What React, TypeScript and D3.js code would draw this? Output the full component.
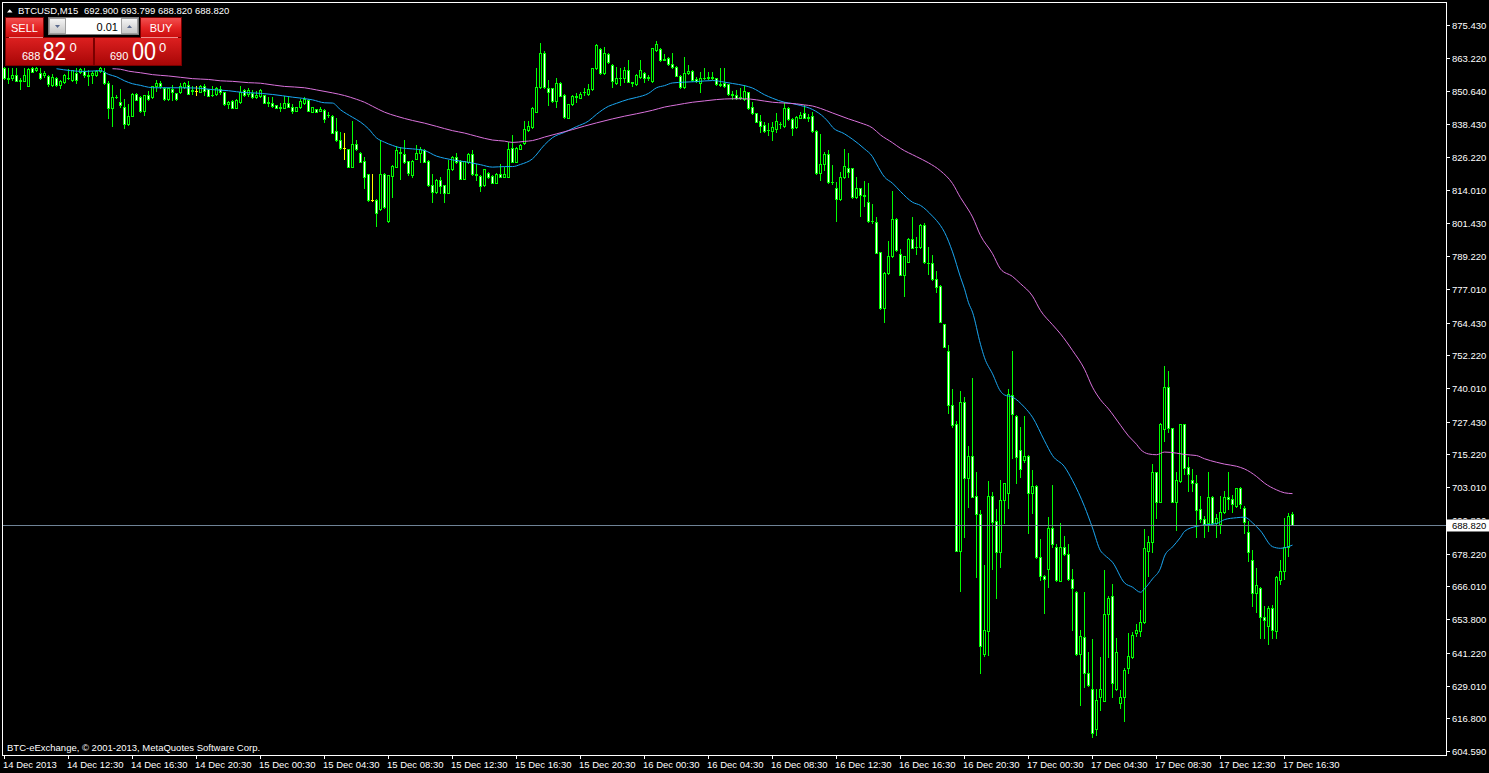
import React from "react";
import * as d3 from "d3";

// ---------- data (BTCUSD, M15) ----------
const opens = [
  859.3, 855.6, 855.8, 856.6, 854.6, 854.4, 852.5, 859.3, 858.6, 857.5,
  856.6, 856.5, 853.1, 855.8, 852.9, 854.1, 855.7, 854.8, 857.5, 857.8,
  858.1, 856.7, 856.6, 856.6, 858.1, 857.8, 853.7, 844.6, 848.4, 846.6,
  844.9, 838.4, 841.5, 849.6, 848.6, 843.5, 849.2, 848.4, 852.5, 853.7,
  852.1, 847.9, 851.5, 850.0, 850.6, 852.4, 852.9, 850.9, 850.9, 850.6,
  852.7, 851.5, 849.2, 849.6, 851.6, 850.4, 845.9, 847.1, 844.6, 846.6,
  851.2, 849.6, 849.9, 848.4, 849.0, 849.2, 846.7, 846.5, 845.5, 844.6,
  844.6, 846.5, 844.7, 843.5, 845.0, 846.2, 847.5, 843.1, 844.0, 843.5,
  843.7, 841.7, 841.5, 835.8, 832.5, 829.4, 829.0, 822.6, 831.0, 827.8,
  824.6, 819.8, 810.1, 810.1, 806.7, 819.8, 802.4, 819.1, 822.6, 828.0,
  827.3, 824.6, 819.5, 825.6, 827.8, 828.8, 824.8, 815.7, 813.3, 817.6,
  815.6, 812.9, 821.6, 826.3, 824.8, 818.1, 824.5, 827.2, 819.7, 819.1,
  815.6, 820.3, 819.1, 816.6, 819.8, 818.8, 818.8, 829.4, 824.5, 829.3,
  831.3, 836.3, 837.5, 843.1, 852.4, 864.9, 851.8, 851.8, 847.2, 853.7,
  849.3, 840.9, 845.8, 849.1, 848.3, 850.4, 849.6, 851.6, 859.3, 866.5,
  857.4, 864.5, 860.5, 853.7, 855.8, 855.5, 858.6, 854.3, 853.3, 856.2,
  857.4, 855.8, 854.5, 866.1, 866.5, 862.4, 863.2, 860.8, 859.9, 856.5,
  852.4, 857.4, 858.3, 855.2, 853.7, 855.8, 855.7, 855.9, 855.5, 853.3,
  853.7, 853.3, 849.6, 849.3, 848.3, 847.8, 850.3, 844.8, 842.5, 839.6,
  838.1, 836.3, 835.9, 836.5, 838.4, 837.9, 844.6, 840.4, 837.5, 840.9,
  842.5, 840.9, 841.5, 835.9, 820.1, 823.4, 827.2, 817.0, 814.5, 810.4,
  818.7, 822.0, 822.0, 811.4, 814.5, 812.0, 809.5, 802.3, 801.8, 790.6,
  769.7, 782.8, 789.1, 803.1, 789.9, 782.2, 787.1, 795.6, 792.7, 792.7,
  800.8, 786.7, 786.5, 780.5, 778.1, 763.8, 753.8, 733.7, 726.6, 679.3,
  734.8, 706.3, 714.6, 699.7, 693.0, 640.8, 649.5, 699.7, 690.4, 678.9,
  698.2, 700.7, 737.4, 729.6, 716.9, 713.0, 714.6, 700.7, 703.5, 676.8,
  669.9, 672.4, 687.7, 680.6, 668.1, 680.8, 677.9, 668.6, 664.0, 640.8,
  647.0, 633.6, 627.6, 612.7, 624.6, 623.4, 655.7, 662.4, 627.6, 622.6,
  624.6, 635.4, 639.5, 648.5, 649.4, 652.6, 679.2, 682.4, 708.5, 697.6,
  724.7, 740.5, 725.0, 697.6, 705.3, 726.5, 710.7, 705.7, 704.4, 694.9,
  691.1, 689.5, 699.5, 689.5, 689.2, 693.6, 699.5, 698.6, 696.1, 702.8,
  695.1, 686.2, 675.8, 663.4, 665.5, 654.7, 651.3, 657.8, 649.4, 668.4,
  671.7, 680.8, 692.9,
];
const highs = [
  859.6, 859.3, 859.3, 859.3, 855.6, 859.3, 859.3, 859.6, 859.6, 859.3,
  858.1, 856.8, 857.1, 856.1, 855.0, 857.3, 859.1, 858.8, 859.3, 859.3,
  859.3, 858.7, 858.1, 858.7, 859.6, 859.3, 854.6, 852.9, 849.4, 851.6,
  847.9, 845.9, 849.9, 849.9, 848.9, 849.5, 850.9, 852.7, 855.0, 854.6,
  852.4, 852.1, 852.9, 850.2, 853.7, 854.0, 854.4, 852.5, 852.5, 852.9,
  853.4, 851.7, 852.5, 852.4, 852.5, 850.6, 847.1, 847.4, 847.8, 852.5,
  851.5, 852.1, 851.2, 850.9, 851.4, 849.4, 848.4, 848.4, 845.6, 846.5,
  849.0, 848.7, 846.0, 845.0, 847.7, 848.4, 847.7, 845.0, 844.2, 844.7,
  844.0, 843.1, 841.7, 840.6, 835.5, 835.0, 829.3, 839.6, 832.5, 828.0,
  826.1, 820.0, 819.8, 810.4, 832.5, 820.3, 819.6, 823.1, 830.3, 829.8,
  832.5, 824.8, 825.1, 830.5, 829.8, 829.0, 825.1, 819.8, 817.8, 818.6,
  815.9, 825.1, 826.6, 827.6, 825.1, 824.8, 827.6, 828.8, 823.6, 819.3,
  821.8, 820.6, 819.3, 820.1, 823.6, 822.3, 831.8, 834.4, 829.8, 831.0,
  839.6, 839.6, 844.8, 859.3, 868.7, 865.7, 854.9, 852.1, 855.5, 854.0,
  849.6, 846.1, 849.3, 849.9, 850.6, 851.8, 853.3, 859.5, 868.2, 866.7,
  867.3, 864.9, 860.8, 859.9, 859.5, 859.9, 862.4, 854.3, 857.0, 862.4,
  857.8, 856.8, 867.0, 869.5, 866.7, 864.5, 863.4, 864.9, 860.1, 856.8,
  863.6, 860.5, 858.6, 856.2, 858.0, 859.3, 858.0, 858.0, 855.8, 859.3,
  859.3, 853.5, 850.8, 851.2, 852.1, 853.0, 850.6, 846.8, 842.7, 841.9,
  839.1, 838.7, 839.1, 842.5, 839.1, 846.8, 844.8, 840.6, 841.5, 843.1,
  845.6, 842.1, 843.1, 836.1, 834.6, 828.2, 828.8, 823.2, 816.7, 820.7,
  829.2, 827.6, 822.2, 818.9, 814.7, 817.2, 816.4, 808.8, 803.9, 790.9,
  783.2, 794.8, 813.5, 803.3, 791.9, 789.4, 795.8, 803.9, 796.5, 801.1,
  801.7, 792.6, 789.6, 783.7, 778.3, 764.0, 756.1, 739.5, 727.8, 739.0,
  736.5, 718.3, 743.9, 708.7, 694.5, 674.0, 705.4, 701.3, 694.7, 705.7,
  704.7, 739.5, 753.8, 729.8, 725.3, 729.6, 714.9, 709.4, 703.7, 683.5,
  670.1, 692.0, 703.8, 681.8, 689.8, 684.8, 681.8, 672.4, 664.3, 649.7,
  664.0, 641.6, 646.3, 627.8, 639.8, 672.1, 662.4, 666.8, 646.6, 627.3,
  635.4, 648.5, 648.8, 651.8, 657.2, 687.4, 684.9, 711.5, 708.8, 726.8,
  748.2, 746.4, 725.2, 708.5, 726.7, 726.7, 714.4, 709.8, 707.5, 699.8,
  692.4, 708.5, 699.8, 692.9, 699.8, 701.6, 708.5, 700.1, 702.8, 703.1,
  696.1, 690.5, 679.6, 672.7, 665.8, 658.8, 658.8, 659.1, 670.0, 675.8,
  691.6, 693.3, 693.799,
];
const lows = [
  855.3, 853.7, 855.0, 854.4, 851.5, 854.4, 852.5, 857.8, 858.3, 855.3,
  856.2, 852.5, 852.5, 852.6, 851.9, 853.7, 855.3, 854.6, 853.7, 857.6,
  856.2, 852.9, 853.7, 856.3, 857.8, 853.4, 840.7, 837.9, 848.1, 845.0,
  836.9, 838.2, 841.3, 847.4, 843.1, 841.9, 847.5, 848.1, 850.9, 851.9,
  847.6, 847.6, 847.5, 847.6, 850.0, 852.1, 849.6, 849.6, 849.4, 850.4,
  849.4, 848.9, 849.1, 849.4, 849.6, 845.6, 844.6, 844.4, 844.4, 846.3,
  849.1, 848.8, 848.1, 848.1, 848.7, 846.2, 845.2, 844.7, 844.5, 843.5,
  844.3, 844.7, 842.5, 843.2, 844.3, 846.0, 843.2, 842.8, 842.8, 843.2,
  839.4, 841.2, 835.0, 832.3, 829.0, 825.6, 822.3, 822.3, 828.8, 824.3,
  814.5, 809.9, 809.9, 800.4, 806.4, 807.2, 801.9, 811.4, 822.3, 818.1,
  824.1, 819.5, 818.6, 825.3, 824.3, 824.3, 815.4, 809.5, 812.6, 812.6,
  809.5, 812.6, 821.3, 823.8, 817.8, 817.8, 824.1, 819.5, 817.6, 813.6,
  815.4, 818.3, 816.4, 816.4, 818.6, 818.6, 818.6, 824.3, 824.3, 829.0,
  831.0, 836.0, 837.1, 842.9, 852.1, 851.8, 845.6, 846.8, 845.0, 848.8,
  840.9, 840.6, 845.6, 846.8, 848.1, 849.3, 849.3, 851.2, 859.0, 857.0,
  857.0, 861.2, 852.4, 853.3, 853.0, 854.3, 854.0, 852.8, 853.0, 855.8,
  854.3, 854.9, 854.3, 865.7, 862.1, 862.2, 860.6, 859.5, 856.3, 852.1,
  852.1, 857.0, 854.6, 854.3, 850.3, 855.2, 855.2, 855.2, 853.0, 852.8,
  852.4, 849.3, 847.8, 847.8, 847.8, 847.4, 844.1, 842.1, 839.1, 835.6,
  835.6, 834.4, 832.5, 835.6, 837.1, 837.5, 840.1, 834.4, 837.1, 840.6,
  840.6, 839.6, 835.6, 820.0, 817.6, 821.3, 816.4, 816.0, 802.3, 810.2,
  818.5, 818.9, 811.0, 811.0, 804.3, 808.0, 802.1, 801.4, 790.3, 769.5,
  764.8, 782.4, 788.9, 791.1, 782.0, 774.5, 786.9, 792.1, 790.1, 792.4,
  786.5, 782.4, 780.3, 775.7, 764.5, 755.2, 730.8, 725.6, 679.1, 664.4,
  684.5, 695.5, 699.2, 669.6, 633.6, 640.0, 640.3, 672.4, 661.5, 673.4,
  689.5, 695.1, 713.8, 704.7, 706.7, 712.5, 686.0, 693.3, 676.5, 668.4,
  656.2, 665.9, 680.6, 668.1, 667.9, 677.7, 668.4, 649.7, 640.4, 621.8,
  628.6, 628.8, 609.7, 610.6, 619.9, 623.1, 639.5, 624.9, 627.3, 620.5,
  615.9, 633.6, 639.2, 647.6, 647.6, 652.3, 670.0, 678.7, 691.6, 697.4,
  720.2, 723.5, 697.4, 687.0, 705.1, 707.8, 701.6, 701.6, 684.5, 690.1,
  684.5, 686.7, 689.2, 684.5, 685.8, 693.3, 694.9, 693.6, 695.7, 695.1,
  685.8, 675.5, 658.8, 656.3, 646.6, 646.6, 644.4, 646.6, 646.9, 666.8,
  668.7, 677.5, 688.82,
];
const closes = [
  855.6, 855.2, 856.8, 854.4, 854.8, 856.8, 859.1, 857.8, 859.3, 855.6,
  857.5, 853.4, 856.1, 852.9, 854.4, 856.8, 855.5, 858.6, 854.8, 859.1,
  856.6, 856.5, 857.5, 858.3, 859.3, 853.7, 844.6, 848.4, 848.6, 845.4,
  838.4, 841.5, 849.6, 847.6, 843.4, 849.2, 847.9, 852.5, 853.7, 852.5,
  847.9, 851.9, 850.4, 847.9, 852.6, 853.7, 849.7, 851.1, 850.9, 852.6,
  850.9, 849.1, 849.5, 852.1, 850.4, 845.9, 846.6, 844.6, 847.5, 850.4,
  849.4, 851.2, 848.7, 849.2, 851.2, 846.5, 846.2, 845.2, 844.6, 844.8,
  846.5, 845.0, 843.5, 844.7, 847.0, 847.7, 843.5, 844.7, 843.0, 844.2,
  840.5, 841.9, 835.3, 832.5, 829.4, 829.4, 822.6, 831.0, 829.0, 824.5,
  818.6, 810.1, 810.1, 805.4, 819.8, 807.4, 819.3, 822.8, 828.8, 827.6,
  824.5, 820.1, 824.8, 827.6, 829.0, 824.5, 815.6, 813.3, 817.6, 815.4,
  812.9, 821.6, 826.3, 824.3, 818.1, 824.6, 827.2, 819.7, 819.5, 815.4,
  821.6, 818.6, 816.6, 819.8, 818.8, 819.8, 829.0, 824.5, 829.4, 830.5,
  836.5, 837.7, 844.6, 852.4, 864.9, 852.4, 850.6, 847.2, 853.7, 849.1,
  841.2, 845.8, 849.1, 848.7, 849.6, 850.6, 851.6, 859.3, 868.0, 857.4,
  864.9, 861.5, 854.5, 855.8, 855.6, 858.6, 854.3, 853.7, 856.8, 858.6,
  855.8, 855.9, 866.7, 868.2, 862.4, 862.7, 860.8, 859.9, 856.5, 852.4,
  857.4, 858.3, 854.9, 854.5, 855.8, 855.7, 855.9, 855.7, 853.3, 853.2,
  852.8, 849.6, 849.5, 848.3, 848.4, 850.8, 844.6, 842.5, 839.4, 837.9,
  835.9, 836.1, 837.5, 839.6, 838.6, 844.6, 840.4, 837.1, 841.2, 841.9,
  840.9, 841.2, 835.9, 820.3, 823.4, 827.2, 816.7, 816.8, 810.4, 818.7,
  822.8, 820.5, 811.4, 814.5, 812.0, 811.7, 802.3, 802.2, 790.5, 769.7,
  782.8, 789.1, 803.1, 791.4, 782.2, 789.1, 795.6, 792.4, 792.6, 800.8,
  786.9, 786.5, 780.5, 777.8, 764.8, 755.4, 733.7, 726.2, 679.3, 734.8,
  706.3, 714.6, 699.5, 693.0, 643.8, 649.7, 699.7, 690.1, 678.9, 698.2,
  704.4, 737.8, 730.3, 714.4, 709.7, 714.6, 700.7, 703.5, 676.8, 669.9,
  668.6, 687.7, 681.8, 668.4, 680.8, 677.9, 668.6, 665.3, 640.8, 647.5,
  633.6, 629.1, 611.4, 623.6, 627.6, 655.7, 661.5, 629.8, 641.6, 624.6,
  634.8, 640.0, 647.7, 649.7, 652.8, 680.4, 682.4, 708.5, 697.6, 726.5,
  740.5, 725.0, 697.6, 705.7, 726.5, 710.0, 707.8, 704.4, 694.5, 691.1,
  689.4, 699.5, 689.5, 691.6, 693.6, 699.5, 698.6, 696.6, 702.6, 696.6,
  689.9, 678.7, 663.4, 666.5, 654.7, 653.5, 657.8, 649.7, 669.6, 671.7,
  680.8, 692.4, 688.82,
];

// moving averages (bar index, value)
const blueBars = [
  13, 20, 24, 26, 28, 30, 32, 34, 36, 38, 44, 48, 52, 56, 60, 62, 67, 72, 77, 80,
  82, 84, 87, 89, 91, 93, 95, 97, 99, 102, 105, 108, 110, 112, 116, 119, 122, 125, 127, 129,
  132, 135, 137, 140, 143, 146, 148, 151, 153, 156, 158, 161, 163, 165, 167, 170, 173, 177, 180, 182,
  185, 187, 190, 192, 195, 197, 199, 202, 205, 206, 207, 210, 212, 215, 217, 218, 220, 222, 224, 227,
  229, 232, 233, 235, 237, 239, 240, 241, 242, 244, 245, 247, 249, 250, 252, 255, 257, 260, 262, 265,
  267, 270, 272, 274, 275, 277, 280, 282, 284, 285, 287, 289, 290, 292, 294, 295, 298, 300, 303, 305,
  308, 310, 312, 314, 317, 319, 322,
];
const blueValues = [
  859.3, 858.3, 858.6, 857.2, 856.3, 854.8, 853.7, 853.1, 852.4, 852.2, 852.2, 852.1, 851.5, 851.1, 850.4, 850.3, 849.7, 848.7, 847.7, 846.6,
  846.5, 844.0, 841.2, 839.4, 836.9, 833.5, 831.9, 830.7, 829.8, 829.4, 828.8, 826.7, 825.9, 825.3, 824.4, 823.5, 822.6, 822.8, 822.8, 823.6,
  825.7, 830.9, 833.6, 835.6, 837.7, 839.8, 842.3, 845.3, 846.4, 847.9, 848.6, 850.1, 852.2, 853.0, 854.0, 854.3, 854.5, 854.9, 854.3, 853.8,
  853.0, 852.1, 849.6, 848.3, 846.8, 846.3, 845.6, 844.1, 841.0, 839.4, 837.5, 835.0, 833.0, 829.4, 826.5, 823.8, 818.9, 816.6, 813.5, 809.5,
  808.3, 804.3, 802.7, 798.3, 791.0, 781.5, 777.2, 772.0, 768.5, 756.5, 751.5, 745.5, 739.0, 737.6, 736.8, 733.0, 729.3, 720.5, 715.0, 710.8,
  705.7, 696.0, 688.0, 679.5, 677.9, 675.2, 667.5, 665.9, 664.0, 665.3, 669.0, 673.0, 677.5, 680.9, 684.5, 686.7, 688.6, 689.1, 689.6, 691.1,
  691.8, 692.0, 689.9, 686.9, 681.0, 680.4, 681.6,
];
const violetBars = [
  27, 29, 31, 34, 37, 41, 44, 47, 51, 54, 57, 61, 64, 65, 70, 75, 78, 82, 85, 88,
  90, 92, 95, 98, 102, 105, 108, 112, 115, 118, 122, 125, 127, 130, 132, 135, 138, 142, 145, 148,
  152, 155, 158, 162, 165, 168, 172, 175, 178, 182, 185, 188, 192, 195, 198, 200, 202, 204, 207, 211,
  214, 217, 219, 222, 224, 228, 231, 234, 237, 239, 240, 242, 244, 247, 249, 252, 254, 257, 259, 262,
  264, 267, 270, 272, 274, 276, 279, 281, 283, 284, 286, 288, 290, 293, 295, 298, 300, 303, 305, 308,
  310, 313, 315, 318, 320, 322,
];
const violetValues = [
  859.3, 859.1, 858.4, 857.8, 857.1, 856.6, 856.1, 855.6, 855.3, 854.8, 854.6, 854.1, 853.9, 853.7, 852.7, 852.2, 851.4, 850.3, 849.3, 847.9,
  846.8, 845.3, 843.1, 841.6, 840.0, 839.0, 837.8, 836.2, 835.3, 834.1, 832.7, 832.3, 831.8, 832.2, 832.5, 833.8, 835.0, 836.6, 837.9, 839.1,
  840.6, 841.6, 842.5, 843.8, 845.0, 845.8, 846.8, 847.3, 847.8, 848.1, 848.1, 847.7, 846.8, 846.5, 846.2, 845.8, 845.4, 844.5, 842.8, 840.6,
  839.1, 837.2, 834.6, 831.7, 829.6, 826.5, 824.2, 821.2, 816.5, 811.2, 808.9, 804.0, 797.1, 790.3, 784.6, 781.8, 779.1, 774.5, 769.1, 763.8,
  760.4, 754.2, 747.2, 740.5, 735.8, 732.4, 726.3, 722.3, 719.2, 717.3, 715.6, 715.3, 716.3, 715.9, 715.4, 715.0, 713.8, 712.5, 711.8, 711.0,
  710.0, 707.2, 704.7, 702.2, 701.1, 700.8,
];

const priceTicks = [
  875.43, 863.22, 850.64, 838.43, 826.22, 814.01, 801.43, 789.22, 777.01, 764.43, 752.22, 740.01,
  727.43, 715.22, 703.01, 690.8, 678.22, 666.01, 653.8, 641.22, 629.01, 616.8, 604.59,
];
const timeLabels = [
  "14 Dec 2013", "14 Dec 12:30", "14 Dec 16:30", "14 Dec 20:30", "15 Dec 00:30", "15 Dec 04:30",
  "15 Dec 08:30", "15 Dec 12:30", "15 Dec 16:30", "15 Dec 20:30", "16 Dec 00:30", "16 Dec 04:30",
  "16 Dec 08:30", "16 Dec 12:30", "16 Dec 16:30", "16 Dec 20:30", "17 Dec 00:30", "17 Dec 04:30",
  "17 Dec 08:30", "17 Dec 12:30", "17 Dec 16:30",
];
const barsPerLabel = 16;
const symbolTitle = "BTCUSD,M15";
const quoteLine = "692.900 693.799 688.820 688.820";
const lastPrice = 688.82;
const sellQuote = ["688", "82", "0"];
const buyQuote = ["690", "00", "0"];
const lotSize = "0.01";
const copyright = "BTC-eExchange, \u00A9 2001-2013, MetaQuotes Software Corp.";

const FONT = "'Liberation Sans', Arial, sans-serif";
const LIME = "#00ff00";

export default function App() {
  const W = 1489, H = 773;
  const pLeft = 2, pTop = 2, pRight = 1446, pBottom = 755;
  const n = opens.length;
  const x = d3.scaleLinear().domain([0, n - 1]).range([4, 1292]);
  const y = d3.scaleLinear().domain([604.59, 875.43]).range([751, 25]);
  const py = (v: number) => Math.round(y(v));
  const fmt = d3.format(".3f");

  const maLine = (bars: number[], vals: number[]) =>
    d3.line<number>()
      .x((_, i) => x(bars[i]) + 0.5)
      .y((d) => y(d) + 0.5)
      .curve(d3.curveMonotoneX)(vals) || "";

  const candles = opens.map((o, i) => {
    const c = Math.round(x(i));
    const cl = closes[i];
    const yh = py(highs[i]);
    const yl = py(lows[i]);
    const bt = py(Math.max(o, cl));
    const bb = py(Math.min(o, cl));
    const doji = o === cl;
    const col = doji ? "#ffff00" : LIME;
    return (
      <g key={i}>
        <rect x={c} y={yh} width={1} height={Math.max(1, yl - yh + 1)} fill={col} />
        <rect x={c - 1} y={bt} width={3} height={bb - bt + 1} fill={col} />
        {!doji && bb - bt >= 2 && (
          <rect x={c} y={bt + 1} width={1} height={bb - bt - 1} fill={cl < o ? "#ffffff" : "#000000"} />
        )}
      </g>
    );
  });

  const lastY = py(lastPrice) + 0.5;
  const boxTop = lastY - 6;

  return (
    <div style={{ position: "fixed", left: 0, top: 0, width: W, height: H, background: "#000" }}>
      <svg width={W} height={H} style={{ display: "block" }} fontFamily={FONT}>
        <defs>
          <linearGradient id="tabGrad" x1="0" y1="0" x2="0" y2="1">
            <stop offset="0" stopColor="#f25252" />
            <stop offset="0.5" stopColor="#e52525" />
            <stop offset="1" stopColor="#c80c0c" />
          </linearGradient>
          <linearGradient id="boxGrad" x1="0" y1="0" x2="0" y2="1">
            <stop offset="0" stopColor="#dd2020" />
            <stop offset="1" stopColor="#a80606" />
          </linearGradient>
          <linearGradient id="btnGrad" x1="0" y1="0" x2="0" y2="1">
            <stop offset="0" stopColor="#f6f6f6" />
            <stop offset="1" stopColor="#c6c6c6" />
          </linearGradient>
          <clipPath id="aboveBox">
            <rect x={1447} y={0} width={42} height={boxTop} />
          </clipPath>
        </defs>
        <rect x={0} y={0} width={W} height={H} fill="#000" />

        <g shapeRendering="crispEdges">{candles}</g>

        <path d={maLine(blueBars, blueValues)} fill="none" stroke="#1aa7f2" strokeWidth={1} />
        <path d={maLine(violetBars, violetValues)} fill="none" stroke="#da72dc" strokeWidth={1} />

        <line x1={pLeft} x2={pRight} y1={lastY} y2={lastY} stroke="#6f8396" strokeWidth={1} shapeRendering="crispEdges" />

        {/* frame */}
        <rect x={pLeft + 0.5} y={pTop + 0.5} width={pRight - pLeft} height={pBottom - pTop} fill="none" stroke="#fff" strokeWidth={1} shapeRendering="crispEdges" />

        {/* price axis */}
        {priceTicks.map((t) => {
          const ty = py(t) + 0.5;
          const hidden = Math.abs(ty - lastY) < 10;
          return (
            <g key={t}>
              <line x1={pRight} x2={pRight + 4} y1={ty} y2={ty} stroke="#fff" shapeRendering="crispEdges" />
              <text x={1452} y={ty + 3.5} fill="#fff" fontSize={9.5} clipPath={hidden ? "url(#aboveBox)" : undefined}>{fmt(t)}</text>
            </g>
          );
        })}
        <rect x={1447} y={boxTop} width={42} height={12} fill="#fff" />
        <text x={1452} y={lastY + 3.5} fill="#000" fontSize={9.5}>{fmt(lastPrice)}</text>

        {/* time axis */}
        {timeLabels.map((lab, k) => {
          const tx = Math.round(x(k * barsPerLabel)) + 0.5;
          return (
            <g key={lab}>
              <line x1={tx} x2={tx} y1={pBottom} y2={pBottom + 4} stroke="#fff" shapeRendering="crispEdges" />
              <text x={tx - 1.5} y={767.5} fill="#fff" fontSize={9.5}>{lab}</text>
            </g>
          );
        })}

        <text x={7} y={750.5} fill="#fff" fontSize={9.5}>{copyright}</text>

        {/* header */}
        <polygon points="7,12.5 12.5,12.5 9.75,9.3" fill="#fff" />
        <text x={18} y={13.5} fill="#fff" fontSize={9.5}>{symbolTitle}</text>
        <text x={84} y={13.5} fill="#fff" fontSize={9.5}>{quoteLine}</text>

        {/* one-click trading panel */}
        <g shapeRendering="crispEdges">
          <rect x={5.5} y={37.5} width={88} height={28} fill="url(#boxGrad)" stroke="#7a0000" />
          <rect x={5.5} y={17.5} width={38} height={20} fill="url(#tabGrad)" stroke="#7a0000" />
          <line x1={9} x2={43} y1={37.5} y2={37.5} stroke="#f08a8a" />
          <rect x={94.5} y={37.5} width={87} height={28} fill="url(#boxGrad)" stroke="#7a0000" />
          <rect x={140.5} y={17.5} width={41} height={20} fill="url(#tabGrad)" stroke="#7a0000" />
          <line x1={141} x2={178} y1={37.5} y2={37.5} stroke="#f08a8a" />
          <rect x={48.5} y={17.5} width={90} height={17} fill="#fff" stroke="#7d7d7d" />
          <rect x={49.5} y={18.5} width={16} height={15} fill="url(#btnGrad)" stroke="#a0a0a0" />
          <rect x={121.5} y={18.5} width={16} height={15} fill="url(#btnGrad)" stroke="#a0a0a0" />
        </g>
        <polygon points="55,25 60,25 57.5,28" fill="#5a6a8e" />
        <polygon points="127,28 132,28 129.5,25" fill="#5a6a8e" />
        <text x={118} y={30.5} fill="#000" fontSize={11} textAnchor="end">{lotSize}</text>
        <text x={24.5} y={31.5} fill="#fff" fontSize={11} textAnchor="middle">SELL</text>
        <text x={161} y={31.5} fill="#fff" fontSize={11} textAnchor="middle">BUY</text>

        <text x={22} y={59.5} fill="#fff" fontSize={11}>{sellQuote[0]}</text>
        <text x={43} y={60} fill="#fff" fontSize={26} textLength={23} lengthAdjust="spacingAndGlyphs">{sellQuote[1]}</text>
        <text x={69.5} y={52} fill="#fff" fontSize={13}>{sellQuote[2]}</text>

        <text x={110} y={59.5} fill="#fff" fontSize={11}>{buyQuote[0]}</text>
        <text x={132} y={60} fill="#fff" fontSize={26} textLength={24} lengthAdjust="spacingAndGlyphs">{buyQuote[1]}</text>
        <text x={159} y={52} fill="#fff" fontSize={13}>{buyQuote[2]}</text>
      </svg>
    </div>
  );
}
